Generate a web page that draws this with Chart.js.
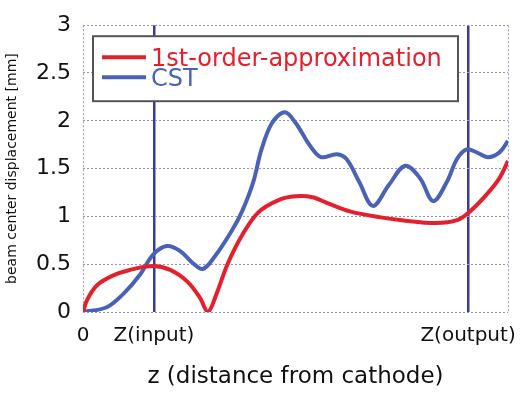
<!DOCTYPE html>
<html>
<head>
<meta charset="utf-8">
<script src="https://cdn.jsdelivr.net/npm/chart.js@4"></script>
<style>
  html, body { margin: 0; padding: 0; background: #fff; }
  #wrap { width: 520px; height: 397px; }
</style>
</head>
<body>
<div id="wrap"><canvas id="chart" width="520" height="397"></canvas></div>
<script>
// z positions are in % of the drawn range (0 = cathode)
const zInput = 16.7;
const zOutput = 90.6;

const xTickValues = [0, zInput, zOutput, 100];
const xTickLabels = ["0", "Z(input)", "Z(output)", ""];

// 1st-order-approximation (red)
const approxZ = [0, 1, 3.3, 7, 11, 16.5, 20.5, 24.5, 27.5, 29.4, 31.5, 34, 37.4, 41.2, 46, 50, 54, 58, 63, 70, 75, 83, 88, 91, 95, 98, 100];
const approxY = [0, 0.13, 0.28, 0.38, 0.44, 0.48, 0.44, 0.32, 0.15, 0.0, 0.2, 0.5, 0.8, 1.04, 1.17, 1.21, 1.2, 1.13, 1.05, 0.99, 0.96, 0.93, 0.96, 1.05, 1.23, 1.4, 1.58];

// CST simulation (blue)
const cstZ = [0, 5.6, 9.5, 13.4, 16.5, 19.7, 22.8, 25.9, 28.2, 31, 35, 37.4, 40, 42, 44.5, 47.5, 50, 53.4, 56, 59.7, 62, 65, 68.2, 72, 75.8, 79.3, 82.4, 85.6, 88, 90.3, 92.6, 95.3, 98, 100];
const cstY = [0, 0.05, 0.19, 0.39, 0.6, 0.69, 0.64, 0.51, 0.45, 0.58, 0.85, 1.05, 1.35, 1.7, 1.98, 2.09, 1.98, 1.74, 1.62, 1.65, 1.6, 1.36, 1.11, 1.33, 1.53, 1.4, 1.16, 1.36, 1.6, 1.7, 1.67, 1.62, 1.67, 1.79];

const yTickStep = 0.5;

const RED = "#e3202b";
const BLUE = "#4a62b6";
const NAVY = "#3a3a9c";
const DOT = "#9494d2";

Chart.defaults.font.family = "'DejaVu Sans', sans-serif";
Chart.defaults.color = "#111";

function toPoints(xs, ys) {
  return xs.map((x, i) => ({ x: x, y: ys[i] }));
}

function isZLine(ctx) {
  return ctx.tick && (ctx.tick.value === zInput || ctx.tick.value === zOutput);
}

// legend box drawn inside the plot, top-left
const boxLegend = {
  id: "boxLegend",
  afterDraw(chart) {
    const { ctx, chartArea } = chart;
    const left = chartArea.left + 10;
    const top = chartArea.top + 11;
    ctx.save();
    ctx.fillStyle = "#fff";
    ctx.fillRect(left, top, 365, 65);
    ctx.lineWidth = 2;
    ctx.strokeStyle = "#555";
    ctx.strokeRect(left, top, 365, 65);
    ctx.font = "24px 'DejaVu Sans'";
    ctx.textBaseline = "middle";
    chart.data.datasets.forEach((ds, i) => {
      const y = top + 21 + i * 20;
      ctx.strokeStyle = ds.borderColor;
      ctx.lineWidth = 4;
      ctx.beginPath();
      ctx.moveTo(left + 9, y);
      ctx.lineTo(left + 53, y);
      ctx.stroke();
      ctx.fillStyle = ds.borderColor;
      ctx.fillText(ds.label, left + 58, y + 3);
    });
    ctx.restore();
  }
};

new Chart(document.getElementById("chart"), {
  type: "line",
  data: {
    datasets: [
      {
        label: "1st-order-approximation",
        data: toPoints(approxZ, approxY),
        borderColor: RED,
        borderWidth: 4,
        pointRadius: 0,
        tension: 0.35,
        fill: false
      },
      {
        label: "CST",
        data: toPoints(cstZ, cstY),
        borderColor: BLUE,
        borderWidth: 4,
        pointRadius: 0,
        tension: 0.35,
        fill: false
      }
    ]
  },
  options: {
    responsive: false,
    animation: false,
    layout: { padding: { top: 15, right: 12, left: 0, bottom: 0 } },
    plugins: {
      legend: { display: false },
      tooltip: { enabled: false }
    },
    scales: {
      x: {
        type: "linear",
        min: 0,
        max: 100,
        afterBuildTicks: (scale) => {
          scale.ticks = xTickValues.map(v => ({ value: v }));
        },
        afterFit: (scale) => { scale.height = 85; },
        ticks: {
          autoSkip: false,
          maxRotation: 0,
          padding: 12,
          font: { size: 20 },
          color: "#111",
          callback: (value, index) => xTickLabels[index]
        },
        grid: {
          drawTicks: false,
          color: (ctx) => isZLine(ctx) ? NAVY : DOT,
          lineWidth: (ctx) => isZLine(ctx) ? 2.5 : 1
        },
        border: {
          display: false,
          dash: (ctx) => isZLine(ctx) ? [] : [2, 2]
        },
        title: {
          display: true,
          text: "z (distance from cathode)",
          font: { size: 23 },
          color: "#111",
          padding: { top: 0, bottom: 6 }
        }
      },
      y: {
        min: 0,
        max: 3,
        afterFit: (scale) => { scale.width = 83; },
        ticks: {
          stepSize: yTickStep,
          padding: 12,
          font: { size: 22 },
          color: "#111",
          callback: (value) => String(value)
        },
        grid: {
          drawTicks: false,
          color: DOT,
          lineWidth: 1
        },
        border: { display: false, dash: [2, 2] },
        title: {
          display: true,
          text: "beam center displacement [mm]",
          font: { size: 14 },
          color: "#111",
          padding: { top: 4, bottom: 0 }
        }
      }
    }
  },
  plugins: [boxLegend]
});
</script>
</body>
</html>
